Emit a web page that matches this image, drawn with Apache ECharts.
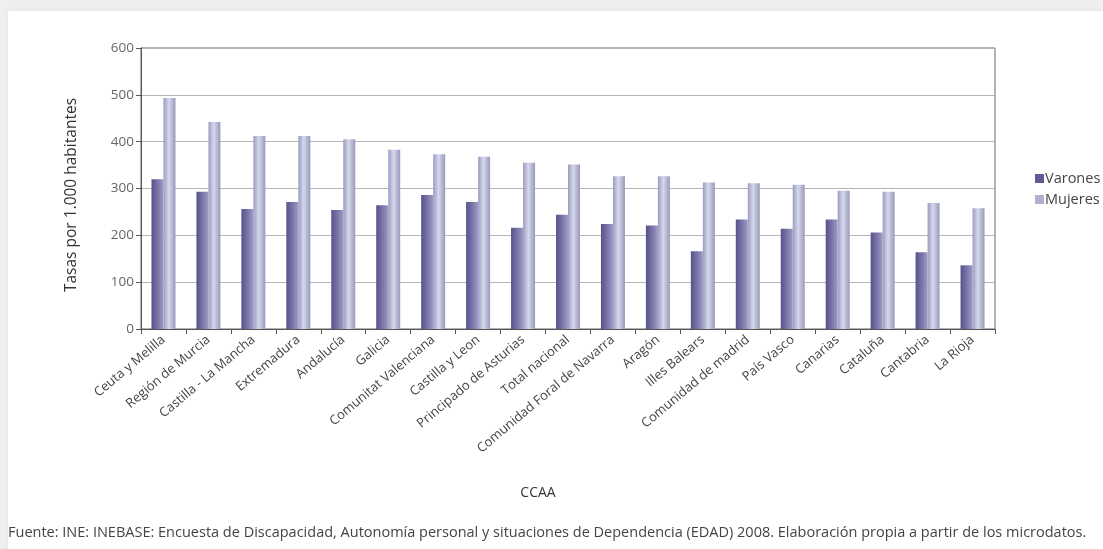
<!DOCTYPE html>
<html>
<head>
<meta charset="utf-8">
<script src="https://cdn.jsdelivr.net/npm/echarts@6/dist/echarts.min.js"></script>
<style>
  html, body { margin: 0; padding: 0; width: 1103px; height: 549px; overflow: hidden; background: #efefef; }
  #card { position: absolute; left: 8px; top: 11px; right: 0; bottom: 0; background: #ffffff; box-shadow: 0 0 6px rgba(0,0,0,0.06); }
  #chart { position: absolute; left: 0; top: 0; width: 1103px; height: 549px; }
</style>
</head>
<body>
<div id="card"></div>
<div id="chart"></div>
<script>
const categories = ["Ceuta y Melilla", "Región de Murcia", "Castilla - La Mancha", "Extremadura", "Andalucía", "Galicia", "Comunitat Valenciana", "Castilla y Leon", "Principado de Asturias", "Total nacional", "Comunidad Foral de Navarra", "Aragón", "Illes Balears", "Comunidad de madrid", "País Vasco", "Canarias", "Cataluña", "Cantabria", "La Rioja"];
const varones = [320, 293, 256, 271, 254, 264, 286, 271, 216, 244, 224, 221, 166, 234, 214, 234, 206, 164, 136];
const mujeres = [493, 442, 412, 412, 405, 383, 373, 368, 355, 351, 326, 326, 313, 311, 308, 295, 293, 269, 258];
const seriesNames = ["Varones", "Mujeres"];
const yTicks = [0, 100, 200, 300, 400, 500, 600];
const yAxisTitle = "Tasas por 1.000 habitantes";
const xAxisTitle = "CCAA";
const sourceText = "Fuente: INE: INEBASE: Encuesta de Discapacidad, Autonomía personal y situaciones de Dependencia (EDAD) 2008. Elaboración propia a partir de los microdatos.";

const FONT = "Open Sans";
const chart = echarts.init(document.getElementById('chart'), null, { renderer: 'canvas' });

const gradV = new echarts.graphic.LinearGradient(0, 0, 1, 0, [
  { offset: 0, color: '#57538a' },
  { offset: 0.55, color: '#7b77aa' },
  { offset: 1, color: '#9f9cc6' }
]);
const gradM = new echarts.graphic.LinearGradient(0, 0, 1, 0, [
  { offset: 0, color: '#9a9bc2' },
  { offset: 0.45, color: '#d6d8eb' },
  { offset: 1, color: '#9899ba' }
]);

chart.setOption({
  animation: false,
  backgroundColor: 'transparent',
  textStyle: { fontFamily: FONT },
  grid: {
    left: 141, top: 48, right: 108, bottom: 220,
    show: true, borderColor: '#666', borderWidth: 1, backgroundColor: 'transparent'
  },
  legend: {
    orient: 'vertical',
    left: 1030, top: 166,
    itemWidth: 9, itemHeight: 9, itemGap: 6,
    icon: 'rect',
    data: [
      { name: seriesNames[0], itemStyle: { color: '#5e5a92' } },
      { name: seriesNames[1], itemStyle: { color: '#aeb0d0' } }
    ],
    textStyle: { fontFamily: FONT, fontSize: 14.5, color: '#444', padding: [0, 0, 0, -4] }
  },
  xAxis: {
    type: 'category',
    data: categories,
    boundaryGap: true,
    axisLine: { show: true, lineStyle: { color: '#555', width: 1 } },
    axisTick: { show: true, alignWithLabel: false, length: 5, lineStyle: { color: '#555' } },
    axisLabel: {
      interval: 0, rotate: 40, fontSize: 13, color: '#444', fontFamily: FONT, margin: 9
    }
  },
  yAxis: {
    type: 'value',
    min: 0, max: 600, interval: 100,
    axisLine: { show: true, lineStyle: { color: '#555', width: 1 } },
    axisTick: { show: true, length: 5, lineStyle: { color: '#555' } },
    axisLabel: {
      fontSize: 13.5, color: '#666', fontFamily: FONT, margin: 7,
      formatter: function (v) { return yTicks.indexOf(v) >= 0 ? String(v) : ''; }
    },
    splitLine: { show: true, lineStyle: { color: '#b5b5b5', width: 1 } }
  },
  series: [
    { name: seriesNames[0], type: 'bar', data: varones, barWidth: 12, barGap: '0%', itemStyle: { color: gradV } },
    { name: seriesNames[1], type: 'bar', data: mujeres, barWidth: 12, barGap: '0%', itemStyle: { color: gradM } }
  ],
  graphic: [
    {
      type: 'text', x: 72, y: 195, rotation: Math.PI / 2,
      style: { text: yAxisTitle, fontFamily: FONT, fontSize: 15.5, fill: '#333', align: 'center', verticalAlign: 'middle' }
    },
    {
      type: 'text', x: 538, y: 493,
      style: { text: xAxisTitle, fontFamily: FONT, fontSize: 14, fill: '#333', align: 'center', verticalAlign: 'middle' }
    },
    {
      type: 'text', x: 8, y: 533,
      style: { text: sourceText, fontFamily: FONT, fontSize: 14.5, fill: '#444', align: 'left', verticalAlign: 'middle' }
    }
  ]
});
</script>
</body>
</html>
